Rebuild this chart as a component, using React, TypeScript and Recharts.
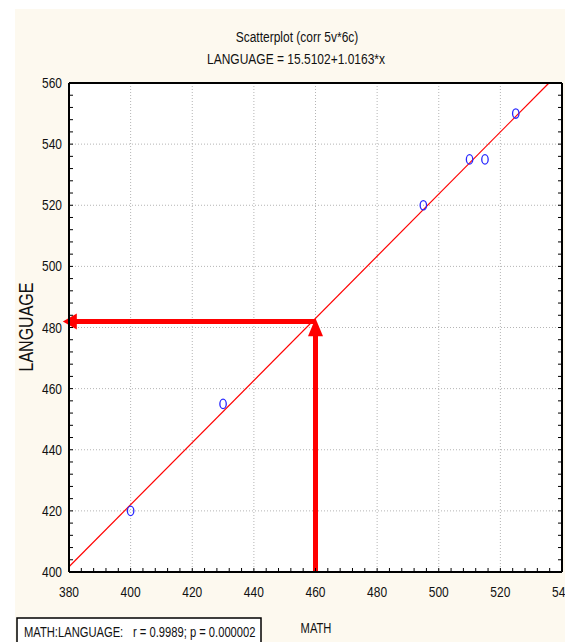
import {
  ComposedChart,
  Scatter,
  XAxis,
  YAxis,
  CartesianGrid,
  ReferenceLine,
} from "recharts";

// values
const mathScores = [400, 430, 495, 510, 515, 525];
const languageScores = [420, 455, 520, 535, 535, 550];
const xTicks = [380, 400, 420, 440, 460, 480, 500, 520, 540];
const yTicks = [400, 420, 440, 460, 480, 500, 520, 540, 560];
const fitIntercept = 15.5102;
const fitSlope = 1.0163;
const arrowMath = 460;
const arrowLanguage = 482;

const FONT = "'Liberation Sans', Arial, sans-serif";
const CREAM = "#fdf9ef";

const points = mathScores.map((m, i) => ({ math: m, language: languageScores[i] }));

// 4 minor steps between each pair of major ticks
const withMinor = (major: number[]) =>
  major.flatMap((v, i) =>
    i === 0 ? [v] : [1, 2, 3, 4, 5].map((k) => major[i - 1] + ((v - major[i - 1]) * k) / 5)
  );
const xMinor = withMinor(xTicks);
const yMinor = withMinor(yTicks);

const fitAt = (x: number) => fitIntercept + fitSlope * x;
const xDomain: [number, number] = [xTicks[0], xTicks[xTicks.length - 1]];
const yDomain: [number, number] = [yTicks[0], yTicks[yTicks.length - 1]];
// fitted line clipped to the plot frame
const fitStart = { x: xDomain[0], y: fitAt(xDomain[0]) };
const fitEnd = { x: (yDomain[1] - fitIntercept) / fitSlope, y: yDomain[1] };

const BOTTOM_GAP = 14;
const LEFT_GAP = 7;

// no narrow font installed, so squeeze a regular sans horizontally
const Narrow = ({ x, y, size, anchor = "start", rotate, children }: any) => (
  <text
    transform={`translate(${x} ${y})${rotate ? ` rotate(${rotate})` : ""} scale(0.8 1)`}
    textAnchor={anchor}
    fontSize={size}
    fontFamily={FONT}
    fill="#111"
  >
    {children}
  </text>
);

const BottomTick = (p: any) => {
  const base = p.y - BOTTOM_GAP;
  return (
    <g>
      <line x1={p.x} x2={p.x} y1={base} y2={base - 4} stroke="#000" />
      {xTicks.includes(p.payload.value) && (
        <Narrow x={p.x} y={base + 25} size={15} anchor="middle">
          {p.payload.value}
        </Narrow>
      )}
    </g>
  );
};

const LeftTick = (p: any) => {
  const base = p.x + LEFT_GAP;
  return (
    <g>
      <line x1={base} x2={base + 4} y1={p.y} y2={p.y} stroke="#000" />
      {yTicks.includes(p.payload.value) && (
        <Narrow x={p.x} y={p.y + 5} size={15} anchor="end">
          {p.payload.value}
        </Narrow>
      )}
    </g>
  );
};

const TopTick = (p: any) => <line x1={p.x} x2={p.x} y1={p.y} y2={p.y + 4} stroke="#000" />;
const RightTick = (p: any) => <line x1={p.x} x2={p.x - 4} y1={p.y} y2={p.y} stroke="#000" />;

const Ring = (p: any) => (
  <ellipse cx={p.cx} cy={p.cy} rx={3.2} ry={4.7} fill="none" stroke="#2828ff" strokeWidth={1.3} />
);

const arrowShape = (headLen: number, headHalf: number) => (p: any) => {
  const { x1, y1, x2, y2 } = p;
  const len = Math.hypot(x2 - x1, y2 - y1) || 1;
  const ux = (x2 - x1) / len;
  const uy = (y2 - y1) / len;
  const bx = x2 - ux * headLen;
  const by = y2 - uy * headLen;
  const nx = -uy * headHalf;
  const ny = ux * headHalf;
  return (
    <g>
      <line x1={x1} y1={y1} x2={bx + ux} y2={by + uy} stroke="#ff0000" strokeWidth={5} />
      <polygon
        points={`${x2},${y2} ${bx + nx},${by + ny} ${bx - nx},${by - ny}`}
        fill="#ff0000"
      />
    </g>
  );
};

export default function App() {
  return (
    <div style={{ position: "absolute", left: 0, top: 0, width: 565, height: 642, background: "#fff", overflow: "hidden" }}>
      <div style={{ position: "absolute", left: 15, top: 9, right: 0, bottom: 0, background: CREAM }} />
      <div style={{ position: "absolute", left: 0, top: 0 }}>
        <ComposedChart width={565} height={642} margin={{ top: 82, right: 2, bottom: 0, left: 15 }}>
          <CartesianGrid
            xAxisId="bottom"
            yAxisId="left"
            fill="#fff"
            stroke="#b4b4b4"
            strokeDasharray="1 2"
            verticalValues={xTicks.slice(1, -1)}
            horizontalValues={yTicks.slice(1, -1)}
          />
          <XAxis
            xAxisId="bottom"
            type="number"
            dataKey="math"
            domain={xDomain}
            ticks={xMinor}
            interval={0}
            allowDataOverflow
            height={70}
            tickSize={0}
            tickMargin={BOTTOM_GAP}
            tick={BottomTick}
            axisLine={{ stroke: "#000", strokeWidth: 2 }}
          />
          <XAxis
            xAxisId="top"
            orientation="top"
            type="number"
            domain={xDomain}
            ticks={xMinor}
            interval={0}
            allowDataOverflow
            height={1}
            tickSize={0}
            tickMargin={0}
            tick={TopTick}
            axisLine={{ stroke: "#000", strokeWidth: 2 }}
          />
          <YAxis
            yAxisId="left"
            type="number"
            dataKey="language"
            domain={yDomain}
            ticks={yMinor}
            interval={0}
            allowDataOverflow
            width={54}
            tickSize={0}
            tickMargin={LEFT_GAP}
            tick={LeftTick}
            axisLine={{ stroke: "#000", strokeWidth: 2 }}
          />
          <YAxis
            yAxisId="right"
            orientation="right"
            type="number"
            domain={yDomain}
            ticks={yMinor}
            interval={0}
            allowDataOverflow
            width={1}
            tickSize={0}
            tickMargin={0}
            tick={RightTick}
            axisLine={{ stroke: "#000", strokeWidth: 2 }}
          />
          <ReferenceLine
            xAxisId="bottom"
            yAxisId="left"
            segment={[fitStart, fitEnd]}
            stroke="#ff0000"
            strokeWidth={1.2}
            ifOverflow="visible"
          />
          <Scatter
            xAxisId="bottom"
            yAxisId="left"
            data={points}
            shape={Ring}
            isAnimationActive={false}
          />
          <ReferenceLine
            xAxisId="bottom"
            yAxisId="left"
            segment={[
              { x: arrowMath, y: yDomain[0] },
              { x: arrowMath, y: fitAt(arrowMath) },
            ]}
            ifOverflow="visible"
            shape={arrowShape(18, 7.5)}
          />
          <ReferenceLine
            xAxisId="bottom"
            yAxisId="left"
            segment={[
              { x: arrowMath, y: arrowLanguage },
              { x: 378, y: arrowLanguage },
            ]}
            ifOverflow="visible"
            shape={arrowShape(14, 8)}
          />
        </ComposedChart>
      </div>
      <svg
        width={565}
        height={642}
        style={{ position: "absolute", left: 0, top: 0, pointerEvents: "none" }}
      >
        <Narrow x={297} y={42} size={15} anchor="middle">
          Scatterplot (corr 5v*6c)
        </Narrow>
        <Narrow x={296} y={64} size={15} anchor="middle">
          LANGUAGE = 15.5102+1.0163*x
        </Narrow>
        <Narrow x={33} y={327} size={20} anchor="middle" rotate={-90}>
          LANGUAGE
        </Narrow>
        <Narrow x={316} y={633} size={14} anchor="middle">
          MATH
        </Narrow>
        <rect x={17} y={618} width={244} height={40} fill="#fff" stroke="#000" strokeWidth={1.5} />
        <Narrow x={24} y={637} size={14}>
          MATH:LANGUAGE:
        </Narrow>
        <Narrow x={133} y={637} size={14}>
          r = 0.9989; p = 0.000002
        </Narrow>
      </svg>
    </div>
  );
}
